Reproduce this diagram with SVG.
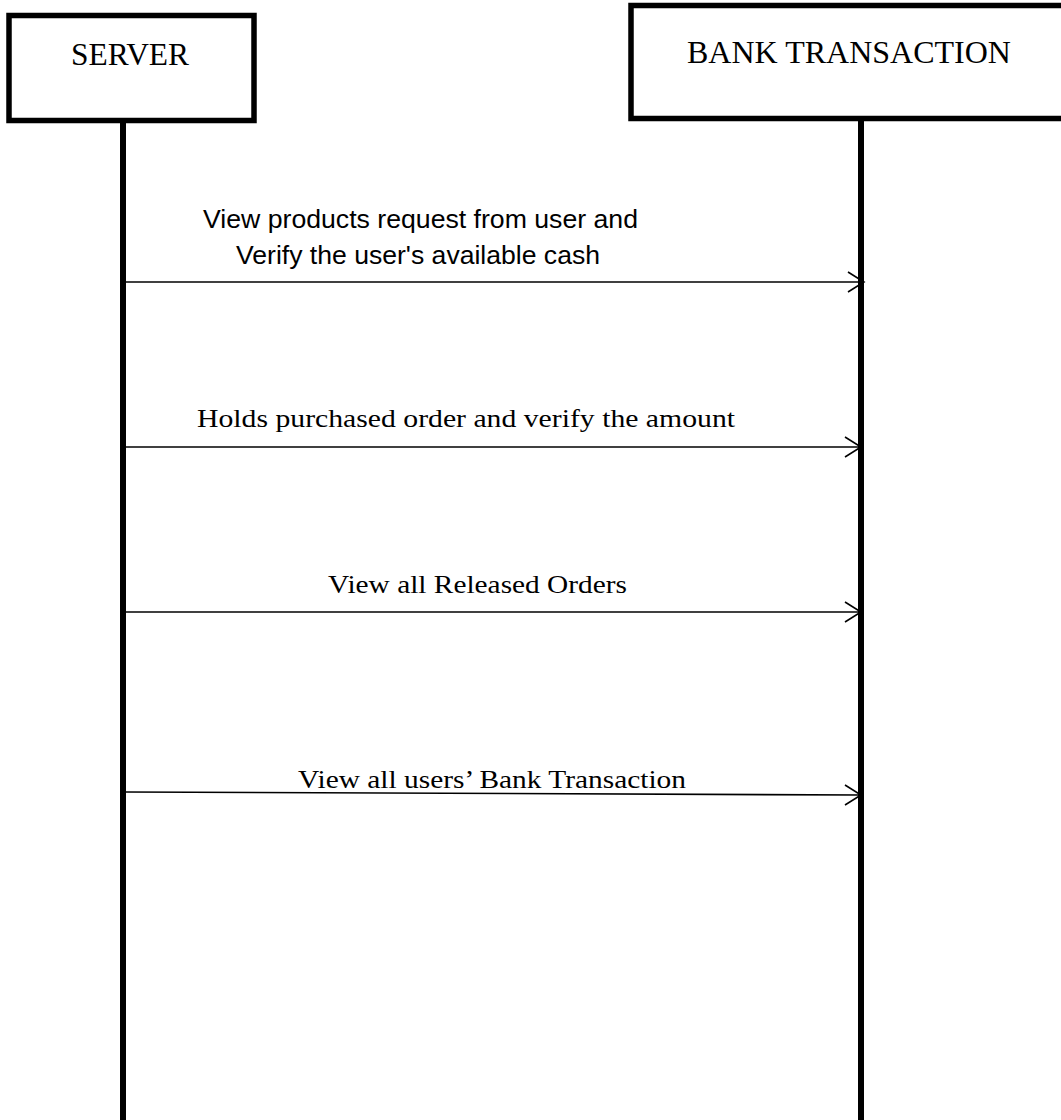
<svg xmlns="http://www.w3.org/2000/svg" width="1061" height="1120" viewBox="0 0 1061 1120">
<style>
.box{fill:#fff;stroke:#000;stroke-width:5.5}
.life{stroke:#000;stroke-width:6}
.msg{stroke:#000;stroke-width:1.6;fill:none}
.head{stroke:#000;stroke-width:1.6;fill:none}
.t{font-family:"Liberation Serif","Times New Roman",serif;fill:#000}
.s{font-family:"Liberation Sans Narrow","Liberation Sans",Arial,sans-serif;fill:#000}
</style>
<rect width="1061" height="1120" fill="#fff"/>
<g id="lifelines">
<line class="life" x1="123" y1="120" x2="123" y2="1120"/>
<line class="life" x1="861" y1="118" x2="861" y2="1120"/>
</g>
<g id="server">
<rect class="box" x="9" y="15.5" width="245" height="105"/>
<text class="t" x="130" y="65" font-size="31" text-anchor="middle" textLength="118" lengthAdjust="spacingAndGlyphs">SERVER</text>
</g>
<g id="bank">
<rect class="box" x="631" y="5.5" width="440" height="113"/>
<text class="t" x="849" y="63" font-size="31" text-anchor="middle" textLength="324" lengthAdjust="spacingAndGlyphs">BANK TRANSACTION</text>
</g>
<g id="connectors">
<line class="msg" x1="125" y1="282" x2="864" y2="282"/>
<polyline class="head" points="848,272 864,282 848,292"/>
<line class="msg" x1="125" y1="447" x2="861" y2="447"/>
<polyline class="head" points="845,437 861,447 845,457"/>
<line class="msg" x1="125" y1="612" x2="861" y2="612"/>
<polyline class="head" points="845,602 861,612 845,622"/>
<line class="msg" x1="125" y1="792" x2="861" y2="795"/>
<polyline class="head" points="845,785 861,795 845,805"/>
</g>
<g id="labels">
<text class="s" x="203" y="228" font-size="26" textLength="435" lengthAdjust="spacingAndGlyphs">View products request from user and</text>
<text class="s" x="236" y="264" font-size="26" textLength="364" lengthAdjust="spacingAndGlyphs">Verify the user's available cash</text>
<text class="t" x="197" y="427" font-size="26" textLength="538" lengthAdjust="spacingAndGlyphs">Holds purchased order and verify the amount</text>
<text class="t" x="328" y="593" font-size="26" textLength="299" lengthAdjust="spacingAndGlyphs">View all Released Orders</text>
<text class="t" x="298" y="788" font-size="26" textLength="388" lengthAdjust="spacingAndGlyphs">View all users’ Bank Transaction</text>
</g>
</svg>
